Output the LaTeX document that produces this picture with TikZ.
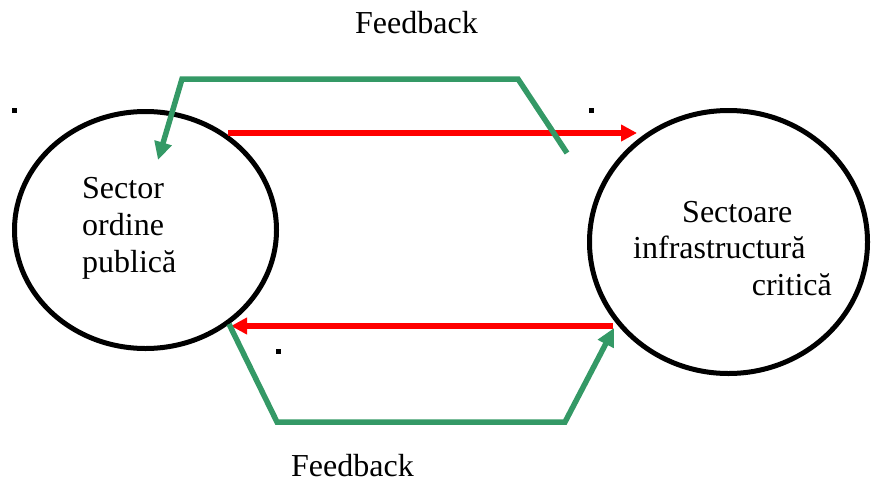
\documentclass[tikz,border=0pt]{standalone}
\usepackage{fontspec}
\setmainfont{Liberation Serif}
\usetikzlibrary{shapes.geometric,arrows.meta}
\definecolor{fbgreen}{RGB}{52,153,102}
\begin{document}
\begin{tikzpicture}[x=1pt,y=-1pt,
    sector/.style={ellipse,draw,line width=5pt,inner sep=0pt},
    txt/.style={font=\fontsize{32}{37}\selectfont,inner sep=0pt},
    flow/.style={red,line width=5.5pt,-{Triangle[length=16pt,width=16pt]}},
    fb/.style={fbgreen,line width=5.5pt,-{Triangle[length=18pt,width=17pt]}},
    dot/.style={fill=black,inner sep=0pt,minimum size=5pt}]

    \useasboundingbox (0,0) rectangle (872,482);

    % the sectors

    \node[sector,minimum width=262pt,minimum height=237pt] (pub) at (145.5,230) {};
    \node[sector,minimum width=278pt,minimum height=263pt] (inf) at (728.5,242) {};

    % the texts

    \node[txt,anchor=base west] (pub1) at (82,198) {Sector};
    \node[txt,anchor=base west] (pub2) at (82,235) {ordine};
    \node[txt,anchor=base west] (pub3) at (82,272) {publică};
    \node[txt,anchor=base west] (inf1) at (682,222) {Sectoare};
    \node[txt,anchor=base west] (inf2) at (633,258) {infrastructură};
    \node[txt,anchor=base east] (inf3) at (832,295) {critică};
    \node[txt,anchor=base west] (fbtop) at (355,33) {Feedback};
    \node[txt,anchor=base west] (fbbot) at (291,476) {Feedback};

    \node[dot] (d1) at (14,110) {};
    \node[dot] (d2) at (591,110) {};
    \node[dot] (d3) at (278,351) {};

    % the flows

    \coordinate (a1) at (228,133);
    \coordinate (a2) at (637,133);
    \coordinate (b1) at (613,326);
    \coordinate (b2) at (231,326);
    \draw[flow] (a1) -- (a2);
    \draw[flow] (b1) -- (b2);

    % the feedback loops

    \coordinate (t1) at (567,153);
    \coordinate (t2) at (518,79);
    \coordinate (t3) at (182,79);
    \coordinate (t4) at (158,160);
    \coordinate (u1) at (229,324);
    \coordinate (u2) at (277,422);
    \coordinate (u3) at (565,422);
    \coordinate (u4) at (614,328);
    \draw[fb] (t1) -- (t2) -- (t3) -- (t4);
    \draw[fb] (u1) -- (u2) -- (u3) -- (u4);
\end{tikzpicture}
\end{document}
